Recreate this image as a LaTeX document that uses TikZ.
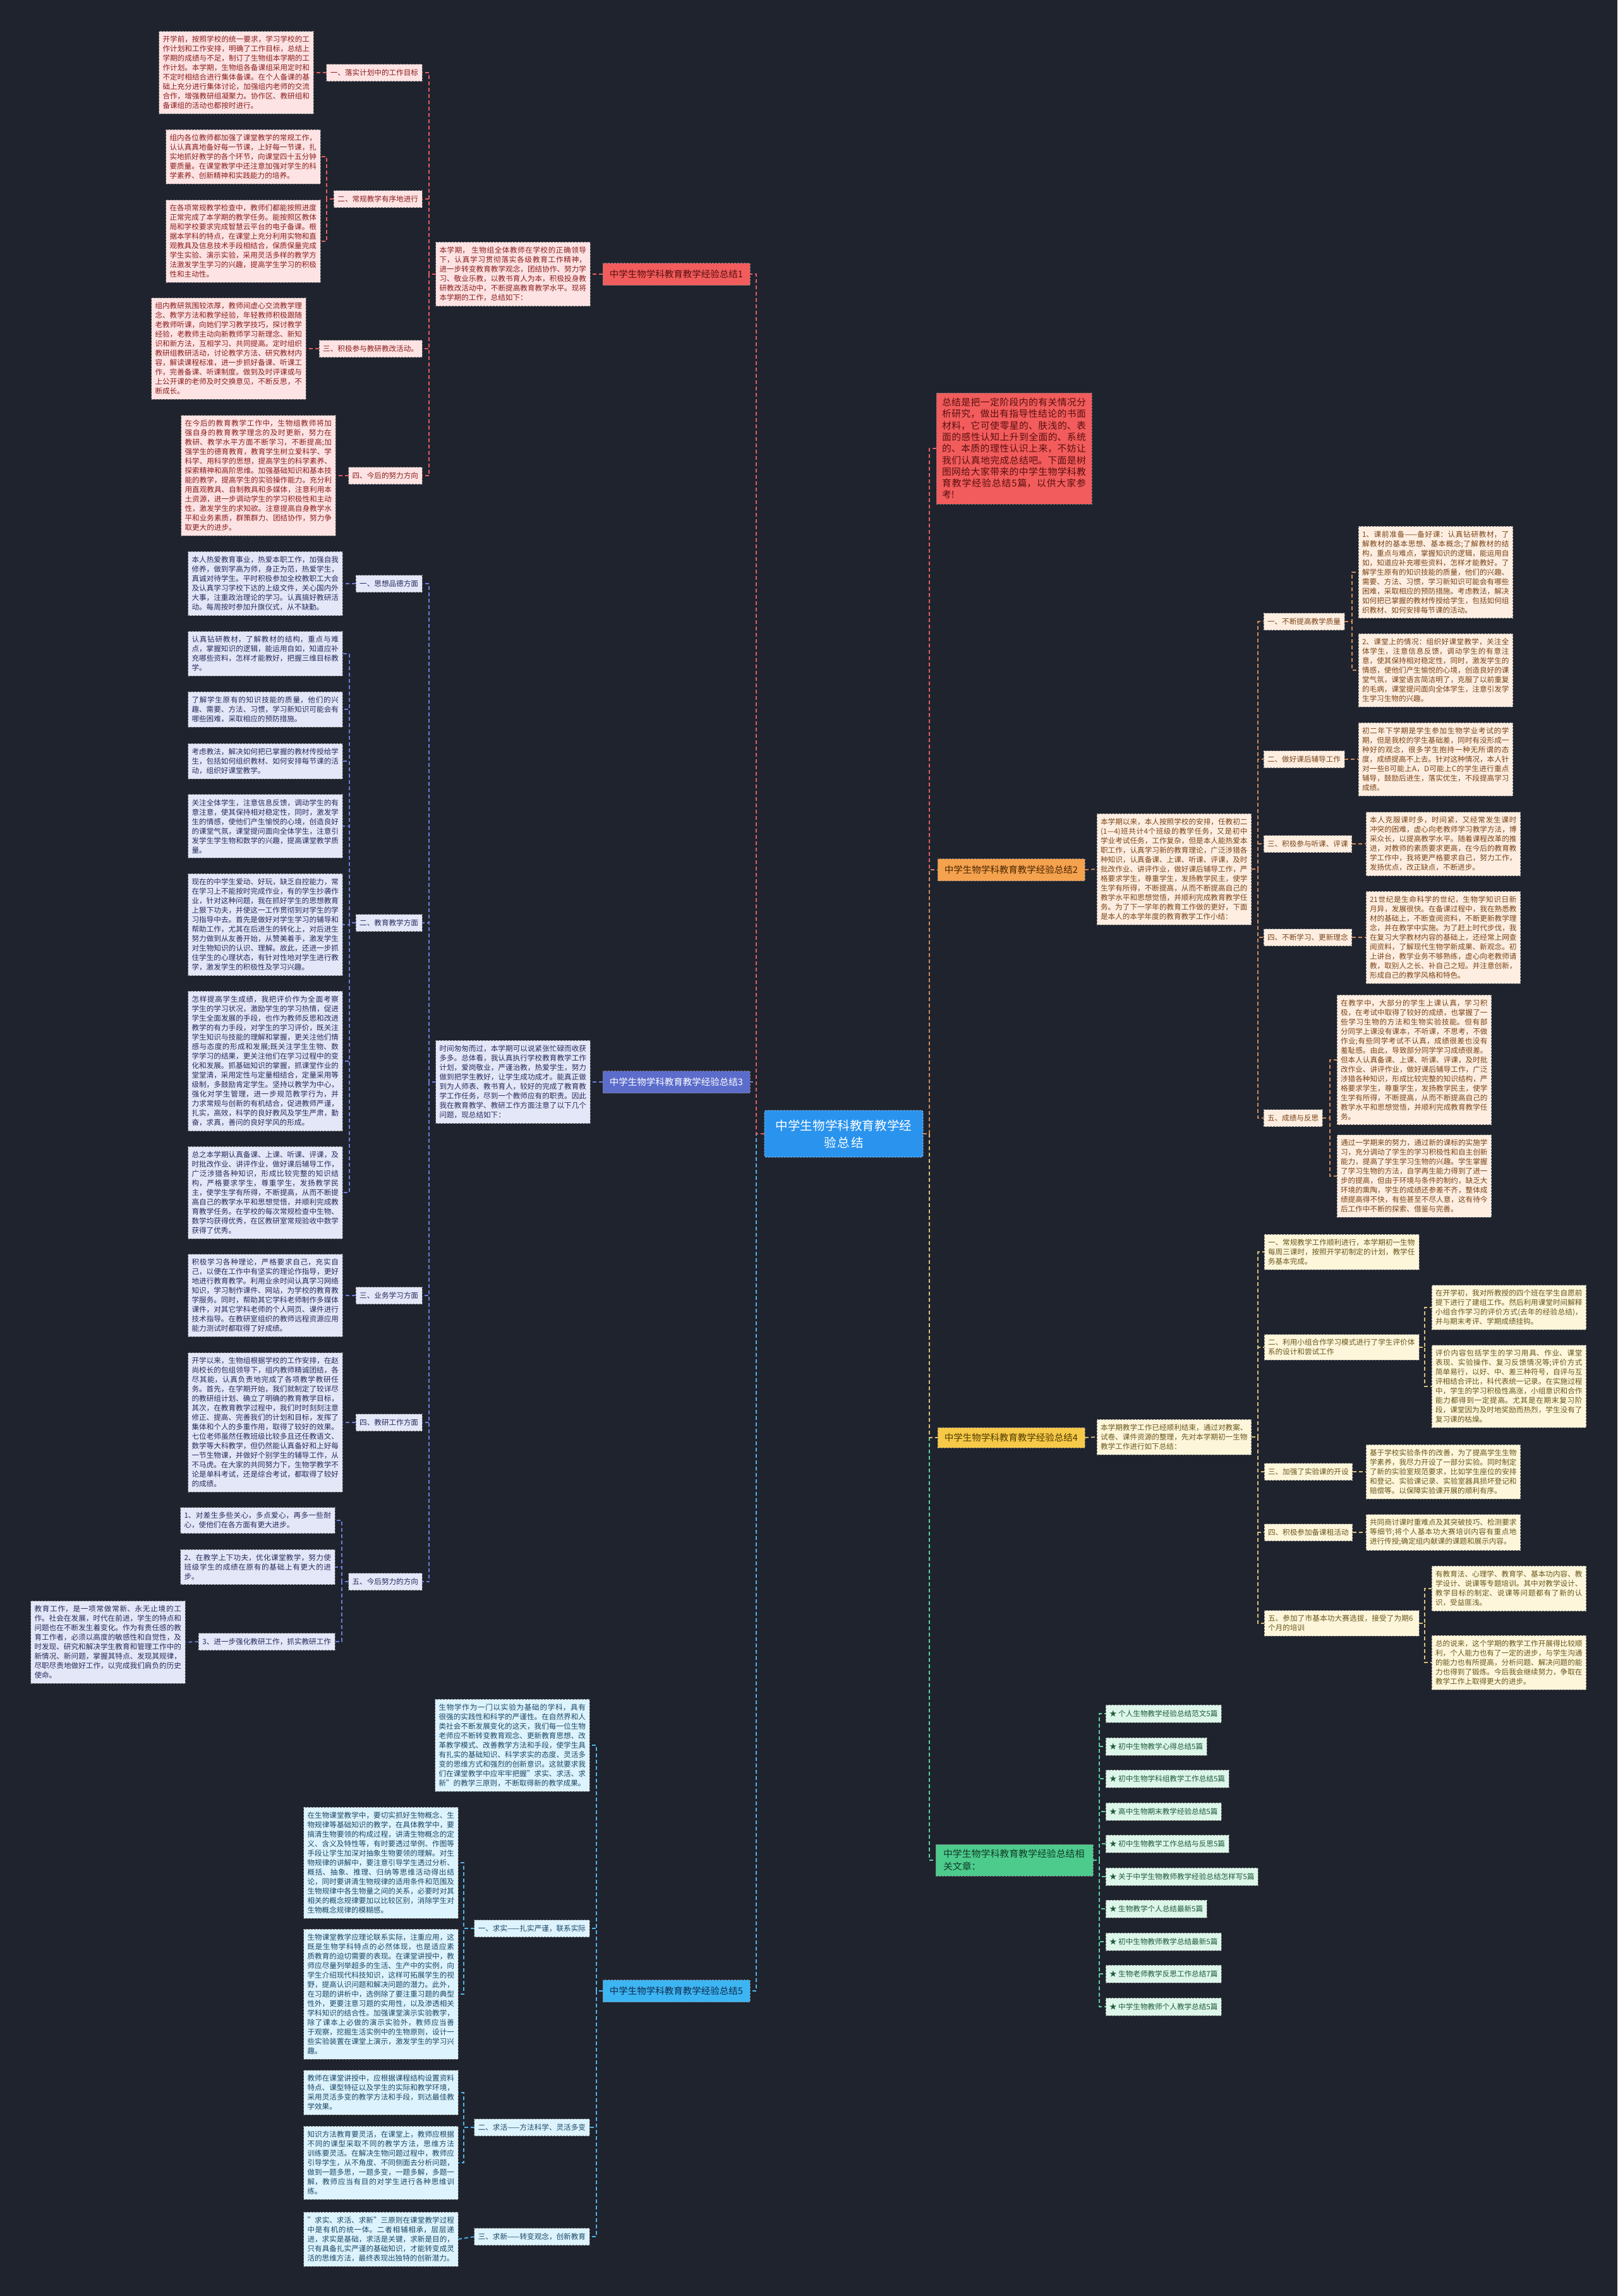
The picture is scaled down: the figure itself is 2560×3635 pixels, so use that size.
\documentclass[tikz,border=0pt]{standalone}
\usepackage{fontspec}
\setmainfont{Noto Sans CJK SC}
\XeTeXlinebreaklocale "zh"
\XeTeXlinebreakskip=0pt plus 1pt
\definecolor{bg}{HTML}{1F232E}
\definecolor{cf}{HTML}{2A93EE}
\definecolor{f1}{HTML}{F25C5C}\definecolor{tb1}{HTML}{5A0E0E}\definecolor{p1}{HTML}{FDE3E3}\definecolor{q1}{HTML}{8B1E1E}\definecolor{l1}{HTML}{E35D5D}
\definecolor{f2}{HTML}{F5A24E}\definecolor{tb2}{HTML}{4A2600}\definecolor{p2}{HTML}{FDEEE1}\definecolor{q2}{HTML}{7B4418}\definecolor{l2}{HTML}{D08A5A}
\definecolor{f3}{HTML}{5B6CCB}\definecolor{tb3}{HTML}{FFFFFF}\definecolor{p3}{HTML}{E4E7F8}\definecolor{q3}{HTML}{272C5C}\definecolor{l3}{HTML}{6C7CDA}
\definecolor{f4}{HTML}{F7C948}\definecolor{tb4}{HTML}{4E3B00}\definecolor{p4}{HTML}{FDF6DB}\definecolor{q4}{HTML}{6A571B}\definecolor{l4}{HTML}{D8C07A}
\definecolor{f5}{HTML}{3DB5F3}\definecolor{tb5}{HTML}{0E2C4E}\definecolor{p5}{HTML}{DDF3FD}\definecolor{q5}{HTML}{1B4866}\definecolor{l5}{HTML}{4FB3E8}
\definecolor{f6}{HTML}{4DCB8D}\definecolor{tb6}{HTML}{0F3D26}\definecolor{p6}{HTML}{DDF6EA}\definecolor{q6}{HTML}{1D5A3A}\definecolor{l6}{HTML}{5CCF9E}
\newcommand{\fsA}{\fontsize{11.6pt}{15pt}\selectfont}
\newcommand{\fsB}{\fontsize{14.5pt}{18pt}\selectfont}
\newcommand{\fsI}{\fontsize{14.8pt}{18.3pt}\selectfont}
\newcommand{\fsC}{\fontsize{19.5pt}{27pt}\selectfont}
\newcommand{\fsG}{\fontsize{14.9pt}{20pt}\selectfont}
\tikzset{
  bx/.style={draw=black!55, dash pattern=on 3pt off 2pt, line width=0.8pt, inner xsep=6pt, inner ysep=7.5pt, font=\fsA, outer sep=0pt},
  para/.style={bx, text width=232.5pt, align=justify},
  labl/.style={bx, minimum height=27pt},
  labw/.style={bx, text width=233pt, align=left},
  bnode/.style={draw=black!50, dash pattern=on 3pt off 2pt, line width=0.8pt, font=\fsB, minimum width=233pt, minimum height=35pt, inner sep=0pt, outer sep=0pt, align=center},
  k1/.style={fill=p1, text=q1}, k2/.style={fill=p2, text=q2}, k3/.style={fill=p3, text=q3},
  k4/.style={fill=p4, text=q4}, k5/.style={fill=p5, text=q5}, k6/.style={fill=p6, text=q6},
  cn/.style={line width=1.8pt, dash pattern=on 6pt off 4pt},
  c1/.style={cn, draw=l1}, c2/.style={cn, draw=l2}, c3/.style={cn, draw=l3},
  c4/.style={cn, draw=l4}, c5/.style={cn, draw=l5}, c6/.style={cn, draw=l6}
}
\begin{document}
\begin{tikzpicture}[x=1pt,y=-1pt]
\fill[bg] (0,0) rectangle (2560,3635);
\useasboundingbox (0,0) rectangle (2560,3635);

% vertical guide coordinates
\coordinate (vl) at (1197,0);
\coordinate (vr) at (1471,0);
\coordinate (v1) at (679,0);
\coordinate (v12) at (517,0);
\coordinate (v2) at (1991,0);
\coordinate (v21) at (2140,0);
\coordinate (v25) at (2105,0);
\coordinate (v3) at (679,0);
\coordinate (v32) at (553,0);
\coordinate (v35) at (541,0);
\coordinate (v4) at (1991,0);
\coordinate (v42) at (2255,0);
\coordinate (v45) at (2255,0);
\coordinate (v5) at (944,0);
\coordinate (v51) at (734,0);
\coordinate (v6) at (1740,0);

% ---------------- center ----------------
\node[fill=cf, draw=white!60!cf, dash pattern=on 3pt off 2pt, line width=0.8pt, rounded corners=3pt, text=white, font=\fsC, minimum width=251pt, minimum height=74pt, text width=225pt, align=center, inner sep=0pt] (ctr) at (1335.5,1795) {中学生物学科教育教学经\\验总结};

% ---------------- intro (right top) ----------------
\node[bx, fill=f1, text=tb1, font=\fsI, text width=228pt, inner xsep=9pt, inner ysep=8pt, align=justify, anchor=west] (r0) at (1482,710) {总结是把一定阶段内的有关情况分析研究，做出有指导性结论的书面材料，它可使零星的、肤浅的、表面的感性认知上升到全面的、系统的、本质的理性认识上来，不妨让我们认真地完成总结吧。下面是树图网给大家带来的中学生物学科教育教学经验总结5篇，以供大家参考!};

% ---------------- branch 1 ----------------
\node[bnode, fill=f1, text=tb1, anchor=east] (b1) at (1187,434) {中学生物学科教育教学经验总结1};
\node[para, k1, anchor=east] (t1) at (934,434) {本学期， 生物组全体教师在学校的正确领导下，认真学习贯彻落实各级教育工作精神，进一步转变教育教学观念，团结协作、努力学习、敬业乐教，以教书育人为本，积极投身教研教改活动中，不断提高教育教学水平。现将本学期的工作，总结如下：};
\node[labl, k1, anchor=east] (l11) at (668,115) {一、落实计划中的工作目标};
\node[para, k1, anchor=east] (x11) at (496,115) {开学前，按照学校的统一要求，学习学校的工作计划和工作安排，明确了工作目标，总结上学期的成绩与不足，制订了生物组本学期的工作计划。本学期，生物组各备课组采用定时和不定时相结合进行集体备课。在个人备课的基础上充分进行集体讨论，加强组内老师的交流合作，增强教研组凝聚力。协作区、教研组和备课组的活动也都按时进行。};
\node[labl, k1, anchor=east] (l12) at (668,315) {二、常规教学有序地进行};
\node[para, k1, anchor=east] (x12a) at (507,248) {组内各位教师都加强了课堂教学的常规工作，认认真真地备好每一节课，上好每一节课，扎实地抓好教学的各个环节，向课堂四十五分钟要质量。在课堂教学中还注意加强对学生的科学素养、创新精神和实践能力的培养。};
\node[para, k1, anchor=east] (x12b) at (507,382) {在各项常规教学检查中，教师们都能按照进度正常完成了本学期的教学任务。能按照区教体局和学校要求完成智慧云平台的电子备课。根据本学科的特点，在课堂上充分利用实物和直观教具及信息技术手段相结合，保质保量完成学生实验、演示实验，采用灵活多样的教学方法激发学生学习的兴趣，提高学生学习的积极性和主动性。};
\node[labl, k1, anchor=east] (l13) at (668,552) {三、积极参与教研教改活动。};
\node[para, k1, anchor=east] (x13) at (484,552) {组内教研氛围较浓厚，教师间虚心交流教学理念、教学方法和教学经验，年轻教师积极跟随老教师听课，向她们学习教学技巧，探讨教学经验，老教师主动向新教师学习新理念、新知识和新方法，互相学习、共同提高。定时组织教研组教研活动，讨论教学方法、研究教材内容，解读课程标准，进一步抓好备课、听课工作，完善备课、听课制度。做到及时评课或与上公开课的老师及时交换意见，不断反思，不断成长。};
\node[labl, k1, anchor=east] (l14) at (668,753) {四、今后的努力方向};
\node[para, k1, anchor=east] (x14) at (531,753) {在今后的教育教学工作中，生物组教师将加强自身的教育教学理念的及时更新，努力在教研、教学水平方面不断学习，不断提高;加强学生的德育教育，教育学生树立爱科学、学科学、用科学的思想，提高学生的科学素养、探索精神和高阶思维。加强基础知识和基本技能的教学，提高学生的实验操作能力。充分利用直观教具、自制教具和多媒体，注意利用本土资源，进一步调动学生的学习积极性和主动性，激发学生的求知欲。注意提高自身教学水平和业务素质，群策群力、团结协作，努力争取更大的进步。};

% ---------------- branch 2 ----------------
\node[bnode, fill=f2, text=tb2, anchor=west] (b2) at (1484,1377) {中学生物学科教育教学经验总结2};
\node[para, k2, anchor=west] (i2) at (1736,1376) {本学期以来，本人按照学校的安排，任教初二(1—4)班共计4个班级的教学任务，又是初中学业考试任务，工作复杂，但是本人能热爱本职工作，认真学习新的教育理论，广泛涉猎各种知识，认真备课、上课、听课、评课，及时批改作业、讲评作业，做好课后辅导工作，严格要求学生，尊重学生，发扬教学民主，使学生学有所得，不断提高，从而不断提高自己的教学水平和思想觉悟，并顺利完成教育教学任务。为了下一学年的教育工作做的更好，下面是本人的本学年度的教育教学工作小结：};
\node[labl, k2, anchor=west] (l21) at (2000,984) {一、不断提高教学质量};
\node[para, k2, anchor=west] (x21a) at (2150,906) {1、课前准备——备好课：认真钻研教材，了解教材的基本思想、基本概念;了解教材的结构，重点与难点，掌握知识的逻辑，能运用自如，知道应补充哪些资料，怎样才能教好。了解学生原有的知识技能的质量，他们的兴趣、需要、方法、习惯，学习新知识可能会有哪些困难，采取相应的预防措施。考虑教法，解决如何把已掌握的教材传授给学生，包括如何组织教材、如何安排每节课的活动。};
\node[para, k2, anchor=west] (x21b) at (2150,1061) {2、课堂上的情况：组织好课堂教学，关注全体学生，注意信息反馈，调动学生的有意注意，使其保持相对稳定性，同时，激发学生的情感，使他们产生愉悦的心境，创造良好的课堂气氛，课堂语言简洁明了，克服了以前重复的毛病，课堂提问面向全体学生，注意引发学生学习生物的兴趣。};
\node[labl, k2, anchor=west] (l22) at (2000,1202) {二、做好课后辅导工作};
\node[para, k2, anchor=west] (x22) at (2150,1202) {初二年下学期是学生参加生物学业考试的学期，但是我校的学生基础差，同时有没形成一种好的观念，很多学生抱持一种无所谓的态度，成绩提高不上去。针对这种情况，本人针对一些B可能上A，D可能上C的学生进行重点辅导，鼓励后进生，落实优生，不段提高学习成绩。};
\node[labl, k2, anchor=west] (l23) at (2000,1336) {三、积极参与听课、评课};
\node[para, k2, anchor=west] (x23) at (2162,1336) {本人克服课时多，时间紧，又经常发生课时冲突的困难，虚心向老教师学习教学方法，博采众长，以提高教学水平。随着课程改革的推进，对教师的素质要求更高，在今后的教育教学工作中，我将更严格要求自己，努力工作，发扬优点，改正缺点，不断进步。};
\node[labl, k2, anchor=west] (l24) at (2000,1484) {四、不断学习、更新理念};
\node[para, k2, anchor=west] (x24) at (2162,1484) {21世纪是生命科学的世纪，生物学知识日新月异，发展很快。在备课过程中，我在熟悉教材的基础上，不断查阅资料，不断更新教学理念，并在教学中实施。为了赶上时代步伐，我在复习大学教材内容的基础上，还经常上网查阅资料，了解现代生物学新成果、新观念。初上讲台，教学业务不够熟练，虚心向老教师请教，取别人之长、补自己之短。并注意创新，形成自己的教学风格和特色。};
\node[labl, k2, anchor=west] (l25) at (2000,1770) {五、成绩与反思};
\node[para, k2, anchor=west] (x25a) at (2116,1678) {在教学中，大部分的学生上课认真，学习积极，在考试中取得了较好的成绩，也掌握了一些学习生物的方法和生物实验技能。但有部分同学上课没有课本，不听课，不思考，不做作业;有些同学考试不认真，成绩很差也没有羞耻感。由此，导致部分同学学习成绩很差。但本人认真备课、上课、听课、评课，及时批改作业、讲评作业，做好课后辅导工作，广泛涉猎各种知识，形成比较完整的知识结构，严格要求学生，尊重学生，发扬教学民主，使学生学有所得，不断提高，从而不断提高自己的教学水平和思想觉悟，并顺利完成教育教学任务。};
\node[para, k2, anchor=west] (x25b) at (2116,1862) {通过一学期来的努力，通过新的课标的实施学习，充分调动了学生的学习积极性和自主创新能力，提高了学生学习生物的兴趣。学生掌握了学习生物的方法，自学再生能力得到了进一步的提高，但由于环境与条件的制约，缺乏大环境的熏陶，学生的成绩还参差不齐，整体成绩提高得不快，有些甚至不尽人意，这有待今后工作中不断的探索、借鉴与完善。};

% ---------------- branch 3 ----------------
\node[bnode, fill=f3, text=tb3, anchor=east] (b3) at (1187,1713) {中学生物学科教育教学经验总结3};
\node[para, k3, anchor=east] (i3) at (934,1713) {时间匆匆而过，本学期可以说紧张忙碌而收获多多。总体看，我认真执行学校教育教学工作计划，爱岗敬业，严谨治教，热爱学生，努力做到把学生教好，让学生成功成才。能真正做到为人师表、教书育人，较好的完成了教育教学工作任务，尽到一个教师应有的职责。因此我在教育教学、教研工作方面注意了以下几个问题，现总结如下：};
\node[labl, k3, anchor=east] (l31) at (668,924) {一、思想品德方面};
\node[para, k3, anchor=east] (x31) at (542,924) {本人热爱教育事业，热爱本职工作，加强自我修养，做到学高为师，身正为范，热爱学生，真诚对待学生。平时积极参加全校教职工大会及认真学习学校下达的上级文件，关心国内外大事，注重政治理论的学习。认真搞好教研活动。每周按时参加升旗仪式，从不缺勤。};
\node[labl, k3, anchor=east] (l32) at (668,1461) {二、教育教学方面};
\node[para, k3, anchor=east] (x32a) at (542,1035) {认真钻研教材，了解教材的结构，重点与难点，掌握知识的逻辑，能运用自如，知道应补充哪些资料，怎样才能教好，把握三维目标教学。};
\node[para, k3, anchor=east] (x32b) at (542,1123) {了解学生原有的知识技能的质量，他们的兴趣、需要、方法、习惯，学习新知识可能会有哪些困难，采取相应的预防措施。};
\node[para, k3, anchor=east] (x32c) at (542,1205) {考虑教法，解决如何把已掌握的教材传授给学生，包括如何组织教材、如何安排每节课的活动，组织好课堂教学。};
\node[para, k3, anchor=east] (x32d) at (542,1308) {关注全体学生，注意信息反馈，调动学生的有意注意，使其保持相对稳定性，同时，激发学生的情感，使他们产生愉悦的心境，创造良好的课堂气氛，课堂提问面向全体学生，注意引发学生学生物和数学的兴趣，提高课堂教学质量。};
\node[para, k3, anchor=east] (x32e) at (542,1464) {现在的中学生爱动、好玩，缺乏自控能力，常在学习上不能按时完成作业，有的学生抄袭作业，针对这种问题，我在抓好学生的思想教育上狠下功夫，并使这一工作贯彻到对学生的学习指导中去。首先是做好对学生学习的辅导和帮助工作，尤其在后进生的转化上，对后进生努力做到从友善开始，从赞美着手，激发学生对生物知识的认识、理解。故此，还进一步抓住学生的心理状态，有针对性地对学生进行教学，激发学生的积极性及学习兴趣。};
\node[para, k3, anchor=east] (x32f) at (542,1680) {怎样提高学生成绩，我把评价作为全面考察学生的学习状况，激励学生的学习热情，促进学生全面发展的手段，也作为教师反思和改进教学的有力手段，对学生的学习评价，既关注学生知识与技能的理解和掌握，更关注他们情感与态度的形成和发展;既关注学生生物、数学学习的结果，更关注他们在学习过程中的变化和发展。抓基础知识的掌握，抓课堂作业的堂堂清，采用定性与定量相结合，定量采用等级制，多鼓励肯定学生。坚持以教学为中心，强化对学生管理，进一步规范教学行为，并力求常规与创新的有机结合，促进教师严谨，扎实，高效，科学的良好教风及学生严肃，勤奋，求真，善问的良好学风的形成。};
\node[para, k3, anchor=east] (x32g) at (542,1888) {总之本学期认真备课、上课、听课、评课，及时批改作业、讲评作业，做好课后辅导工作，广泛涉猎各种知识，形成比较完整的知识结构，严格要求学生，尊重学生，发扬教学民主，使学生学有所得，不断提高，从而不断提高自己的教学水平和思想觉悟，并顺利完成教育教学任务。在学校的每次常规检查中生物、数学均获得优秀，在区教研室常规验收中数学获得了优秀。};
\node[labl, k3, anchor=east] (l33) at (668,2051) {三、业务学习方面};
\node[para, k3, anchor=east] (x33) at (542,2051) {积极学习各种理论，严格要求自己，充实自己，以便在工作中有坚实的理论作指导，更好地进行教育教学。利用业余时间认真学习网络知识，学习制作课件、网站，为学校的教育教学服务。同时，帮助其它学科老师制作多媒体课件，对其它学科老师的个人网页、课件进行技术指导。在教研室组织的教师远程资源应用能力测试时都取得了好成绩。};
\node[labl, k3, anchor=east] (l34) at (668,2252) {四、教研工作方面};
\node[para, k3, anchor=east] (x34) at (542,2252) {开学以来，生物组根据学校的工作安排，在赵尚校长的包组领导下，组内教师精诚团结，各尽其能，认真负责地完成了各项教学教研任务。首先，在学期开始，我们就制定了较详尽的教研组计划、确立了明确的教育教学目标，其次，在教育教学过程中，我们时时刻刻注意修正、提高、完善我们的计划和目标，发挥了集体和个人的多重作用，取得了较好的效果。七位老师虽然任教班级比较多且还任教语文、数学等大科教学，但仍然能认真备好和上好每一节生物课，并做好个别学生的辅导工作，从不马虎。在大家的共同努力下，生物学教学不论是单科考试，还是综合考试，都取得了较好的成绩。};
\node[labl, k3, anchor=east] (l35) at (668,2504) {五、今后努力的方向};
\node[para, k3, anchor=east] (x35a) at (530,2407) {1、对差生多些关心，多点爱心，再多一些耐心，使他们在各方面有更大进步。};
\node[para, k3, anchor=east] (x35b) at (530,2481) {2、在教学上下功夫，优化课堂教学，努力使班级学生的成绩在原有的基础上有更大的进步。};
\node[labl, k3, anchor=east] (l353) at (530,2599) {3、进一步强化教研工作，抓实教研工作};
\node[para, k3, anchor=east] (x353) at (293,2600) {教育工作，是一项常做常新、永无止境的工作。社会在发展，时代在前进，学生的特点和问题也在不断发生着变化。作为有责任感的教育工作者，必须以高度的敏感性和自觉性，及时发现、研究和解决学生教育和管理工作中的新情况、新问题，掌握其特点、发现其规律，尽职尽责地做好工作，以完成我们肩负的历史使命。};

% ---------------- branch 4 ----------------
\node[bnode, fill=f4, text=tb4, anchor=west, minimum height=32pt] (b4) at (1484,2276) {中学生物学科教育教学经验总结4};
\node[para, k4, anchor=west] (i4) at (1736,2275) {本学期教学工作已经顺利结束，通过对教案、试卷、课件资源的整理，先对本学期初一生物教学工作进行如下总结：};
\node[labw, k4, anchor=west] (l41) at (2001,1982) {一、常规教学工作顺利进行，本学期初一生物每周三课时，按照开学初制定的计划，教学任务基本完成。};
\node[labw, k4, anchor=west] (l42) at (2001,2133) {二、利用小组合作学习模式进行了学生评价体系的设计和尝试工作};
\node[para, k4, anchor=west] (x42a) at (2266,2070) {在开学初，我对所教授的四个班在学生自愿前提下进行了建组工作。然后利用课堂时间解释小组合作学习的评价方式(去年的经验总结)，并与期末考评、学期成绩挂钩。};
\node[para, k4, anchor=west] (x42b) at (2266,2195) {评价内容包括学生的学习用具、作业、课堂表现、实验操作、复习反馈情况等;评价方式简单易行，以好、中、差三种符号，自评与互评相结合评比，科代表统一记录。在实施过程中，学生的学习积极性高涨，小组意识和合作能力都得到一定提高。尤其是在期末复习阶段，课堂因为及时地奖励而热烈，学生没有了复习课的枯燥。};
\node[labl, k4, anchor=west] (l43) at (2001,2330) {三、加强了实验课的开设};
\node[para, k4, anchor=west] (x43) at (2162,2330) {基于学校实验条件的改善，为了提高学生生物学素养，我尽力开设了一部分实验。同时制定了新的实验室规范要求，比如学生座位的安排和登记、实验课记录、实验室器具损坏登记和赔偿等。以保障实验课开展的顺利有序。};
\node[labl, k4, anchor=west] (l44) at (2001,2426) {四、积极参加备课租活动};
\node[para, k4, anchor=west] (x44) at (2162,2426) {共同商讨课时重难点及其突破技巧、检测要求等细节;将个人基本功大赛培训内容有重点地进行传授;确定组内献课的课题和展示内容。};
\node[labw, k4, anchor=west] (l45) at (2001,2570) {五、参加了市基本功大赛选拔，接受了为期6个月的培训};
\node[para, k4, anchor=west] (x45a) at (2266,2515) {有教育法、心理学、教育学、基本功内容、教学设计、说课等专题培训。其中对教学设计、教学目标的制定、说课等问题都有了新的认识，受益匪浅。};
\node[para, k4, anchor=west] (x45b) at (2266,2632) {总的说来，这个学期的教学工作开展得比较顺利，个人能力也有了一定的进步，与学生沟通的能力也有所提高，分析问题、解决问题的能力也得到了锻炼。今后我会继续努力，争取在教学工作上取得更大的进步。};

% ---------------- branch 5 ----------------
\node[bnode, fill=f5, text=tb5, anchor=east] (b5) at (1187,3152) {中学生物学科教育教学经验总结5};
\node[para, k5, anchor=east] (i5) at (933,2763) {生物学作为一门以实验为基础的学科，具有很强的实践性和科学的严谨性。在自然界和人类社会不断发展变化的这天，我们每一位生物老师应不断转变教育观念、更新教育思想、改革教学模式、改善教学方法和手段，使学生具有扎实的基础知识、科学求实的态度、灵活多变的思维方式和强烈的创新意识。这就要求我们在课堂教学中应牢牢把握"求实、求活、求新"的教学三原则，不断取得新的教学成果。};
\node[labl, k5, anchor=east] (l51) at (933,3053) {一、求实——扎实严谨，联系实际};
\node[para, k5, anchor=east] (x51a) at (725,2949) {在生物课堂教学中，要切实抓好生物概念、生物规律等基础知识的教学，在具体教学中，要搞清生物要领的构成过程，讲清生物概念的定义、含义及特性等，有时要透过举例、作图等手段让学生加深对抽象生物要领的理解。对生物规律的讲解中，要注意引导学生透过分析、概括、抽象、推理、归纳等思维活动得出结论，同时要讲清生物规律的适用条件和范围及生物规律中各生物量之间的关系，必要时对其相关的概念规律要加以比较区别，消除学生对生物概念规律的模糊感。};
\node[para, k5, anchor=east] (x51b) at (725,3157) {生物课堂教学应理论联系实际，注重应用，这既是生物学科特点的必然体现，也是适应素质教育的迫切需要的表现。在课堂讲授中，教师应尽量列举超多的生活、生产中的实例，向学生介绍现代科技知识，这样可拓展学生的视野，提高认识问题和解决问题的潜力。此外，在习题的讲析中，选例除了要注重习题的典型性外，更要注意习题的实用性，以及渗透相关学科知识的结合性。加强课堂演示实验教学，除了课本上必做的演示实验外，教师应当善于观察，挖掘生活实例中的生物原则，设计一些实验装置在课堂上演示，激发学生的学习兴趣。};
\node[labl, k5, anchor=east] (l52) at (933,3368) {二、求活——方法科学、灵活多变};
\node[para, k5, anchor=east] (x52a) at (725,3313) {教师在课堂讲授中，应根据课程结构设置资料特点、课型特征以及学生的实际和教学环境，采用灵活多变的教学方法和手段，到达最佳教学效果。};
\node[para, k5, anchor=east] (x52b) at (725,3424) {知识方法教育要灵活，在课堂上，教师应根据不同的课型采取不同的教学方法，思维方法训练要灵活。在解决生物问题过程中，教师应引导学生，从不角度、不同侧面去分析问题，做到一题多思，一题多变，一题多解，多题一解，教师应当有目的对学生进行各种思维训练。};
\node[labl, k5, anchor=east] (l53) at (933,3541) {三、求新——转变观念，创新教育};
\node[para, k5, anchor=east] (x53) at (725,3545) {"求实、求活、求新"三原则在课堂教学过程中是有机的统一体。二者相辅相承，层层递进，求实是基础，求活是关键，求新是目的，只有具备扎实严谨的基础知识，才能转变成灵活的思维方法，最终表现出独特的创新潜力。};

% ---------------- branch 6 ----------------
\node[draw=black!50, dash pattern=on 3pt off 2pt, line width=0.8pt, fill=f6, text=tb6, font=\fsG, text width=225pt, align=left, inner xsep=12pt, inner ysep=8pt, outer sep=0pt, anchor=west] (b6) at (1481,2945) {中学生物学科教育教学经验总结相\\关文章：};
\node[labl, k6, anchor=west, minimum height=28pt] (r61) at (1750,2713) {★ 个人生物教学经验总结范文5篇};
\node[labl, k6, anchor=west, minimum height=28pt] (r62) at (1750,2765) {★ 初中生物教学心得总结5篇};
\node[labl, k6, anchor=west, minimum height=28pt] (r63) at (1750,2816) {★ 初中生物学科组教学工作总结5篇};
\node[labl, k6, anchor=west, minimum height=28pt] (r64) at (1750,2868) {★ 高中生物期末教学经验总结5篇};
\node[labl, k6, anchor=west, minimum height=28pt] (r65) at (1750,2919) {★ 初中生物教学工作总结与反思5篇};
\node[labl, k6, anchor=west, minimum height=28pt] (r66) at (1750,2971) {★ 关于中学生物教师教学经验总结怎样写5篇};
\node[labl, k6, anchor=west, minimum height=28pt] (r67) at (1750,3022) {★ 生物教学个人总结最新5篇};
\node[labl, k6, anchor=west, minimum height=28pt] (r68) at (1750,3074) {★ 初中生物教师教学总结最新5篇};
\node[labl, k6, anchor=west, minimum height=28pt] (r69) at (1750,3125) {★ 生物老师教学反思工作总结7篇};
\node[labl, k6, anchor=west, minimum height=28pt] (r610) at (1750,3177) {★ 中学生物教师个人教学总结5篇};

% ================= connectors =================
% trunk
\draw[c3] (ctr.west) -- (ctr.west -| vl) |- (b3.east);
\draw[c5] (ctr.west) -- (ctr.west -| vl) |- (b5.east);
\draw[c1] (ctr.west) -- (ctr.west -| vl) |- (b1.east);
\draw[c6] (ctr.east) -- (ctr.east -| vr) |- (b6.west);
\draw[c4] (ctr.east) -- (ctr.east -| vr) |- (b4.west);
\draw[c1] (ctr.east) -- (ctr.east -| vr) |- (r0.west);
\draw[c2] (ctr.east) -- (ctr.east -| vr) |- (b2.west);

% branch 1
\draw[c1] (b1.west) -- (t1.east);
\foreach \n in {l11,l12,l13,l14} \draw[c1] (t1.west) -- (t1.west -| v1) |- (\n.east);
\draw[c1] (l11.west) -- (x11.east);
\draw[c1] (l12.west) -- (l12.west -| v12) |- (x12a.east);
\draw[c1] (l12.west) -- (l12.west -| v12) |- (x12b.east);
\draw[c1] (l13.west) -- (x13.east);
\draw[c1] (l14.west) -- (x14.east);

% branch 2
\draw[c2] (b2.east) -- (i2.west);
\foreach \n in {l21,l22,l23,l24,l25} \draw[c2] (i2.east) -- (i2.east -| v2) |- (\n.west);
\draw[c2] (l21.east) -- (l21.east -| v21) |- (x21a.west);
\draw[c2] (l21.east) -- (l21.east -| v21) |- (x21b.west);
\draw[c2] (l22.east) -- (x22.west);
\draw[c2] (l23.east) -- (x23.west);
\draw[c2] (l24.east) -- (x24.west);
\draw[c2] (l25.east) -- (l25.east -| v25) |- (x25a.west);
\draw[c2] (l25.east) -- (l25.east -| v25) |- (x25b.west);

% branch 3
\draw[c3] (b3.west) -- (i3.east);
\foreach \n in {l31,l32,l33,l34,l35} \draw[c3] (i3.west) -- (i3.west -| v3) |- (\n.east);
\draw[c3] (l31.west) -- (x31.east);
\foreach \n in {x32a,x32b,x32c,x32d,x32e,x32f,x32g} \draw[c3] (l32.west) -- (l32.west -| v32) |- (\n.east);
\draw[c3] (l33.west) -- (x33.east);
\draw[c3] (l34.west) -- (x34.east);
\foreach \n in {x35a,x35b,l353} \draw[c3] (l35.west) -- (l35.west -| v35) |- (\n.east);
\draw[c3] (l353.west) -- (x353.east);

% branch 4
\draw[c4] (b4.east) -- (i4.west);
\foreach \n in {l41,l42,l43,l44,l45} \draw[c4] (i4.east) -- (i4.east -| v4) |- (\n.west);
\draw[c4] (l42.east) -- (l42.east -| v42) |- (x42a.west);
\draw[c4] (l42.east) -- (l42.east -| v42) |- (x42b.west);
\draw[c4] (l43.east) -- (x43.west);
\draw[c4] (l44.east) -- (x44.west);
\draw[c4] (l45.east) -- (l45.east -| v45) |- (x45a.west);
\draw[c4] (l45.east) -- (l45.east -| v45) |- (x45b.west);

% branch 5
\foreach \n in {i5,l51,l52,l53} \draw[c5] (b5.west) -- (b5.west -| v5) |- (\n.east);
\draw[c5] (l51.west) -- (l51.west -| v51) |- (x51a.east);
\draw[c5] (l51.west) -- (l51.west -| v51) |- (x51b.east);
\draw[c5] (l52.west) -- (l52.west -| v51) |- (x52a.east);
\draw[c5] (l52.west) -- (l52.west -| v51) |- (x52b.east);
\draw[c5] (l53.west) -- (x53.east);

% branch 6
\foreach \n in {r61,r62,r63,r64,r65,r66,r67,r68,r69,r610} \draw[c6] (b6.east) -- (b6.east -| v6) |- (\n.west);

\end{tikzpicture}
\end{document}
